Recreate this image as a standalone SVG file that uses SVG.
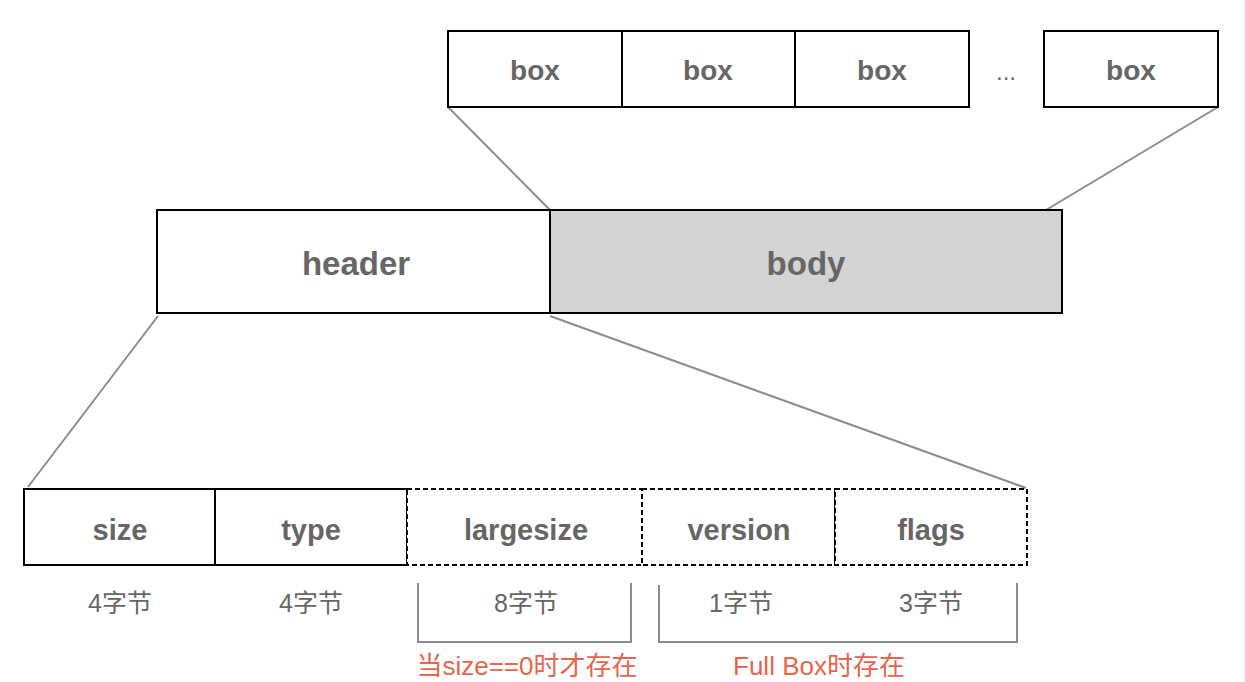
<svg xmlns="http://www.w3.org/2000/svg" width="1246" height="682" viewBox="0 0 1246 682">
<style>
.b{fill:#fff;stroke:#000;stroke-width:2}
.d{fill:#fff;stroke:#000;stroke-width:2;stroke-dasharray:5 3}
.t{font-family:"Liberation Sans",Arial,sans-serif;font-weight:bold;fill:#666;text-anchor:middle}
.s{font-family:"Liberation Sans","Noto Sans CJK SC",sans-serif;font-size:25px;fill:#666;text-anchor:middle}
.r{font-family:"Liberation Sans","Noto Sans CJK SC",sans-serif;font-size:26px;fill:#e8644c;text-anchor:middle}
.c{stroke:#8c8c8c;stroke-width:2;fill:none}
</style>
<rect width="1246" height="682" fill="#fff"/>
<rect x="1244" y="0" width="2" height="682" fill="#e6e6e6"/>
<g id="connectors">
<line class="c" x1="448" y1="107" x2="550" y2="210"/>
<line class="c" x1="1218" y1="107" x2="1046" y2="210"/>
<line class="c" x1="158" y1="316" x2="28" y2="487"/>
<line class="c" x1="550" y1="316" x2="1026" y2="488"/>
<path class="c" d="M418 583 V642 H631 V583"/>
<path class="c" d="M659 585 V642 H1017 V583"/>
</g>
<g id="box1"><rect class="b" x="448" y="31" width="174" height="76"/><text class="t" x="535" y="80" font-size="28">box</text></g>
<g id="box2"><rect class="b" x="622" y="31" width="173" height="76"/><text class="t" x="708" y="80" font-size="28">box</text></g>
<g id="box3"><rect class="b" x="795" y="31" width="174" height="76"/><text class="t" x="882" y="80" font-size="28">box</text></g>
<g id="ellipsis"><text x="1006" y="80" font-family="Liberation Sans,Arial,sans-serif" font-size="24" fill="#666" text-anchor="middle">...</text></g>
<g id="box4"><rect class="b" x="1044" y="31" width="174" height="76"/><text class="t" x="1131" y="80" font-size="28">box</text></g>
<g id="header"><rect class="b" x="157" y="210" width="393" height="103"/><text class="t" x="356" y="275" font-size="33">header</text></g>
<g id="body"><rect class="b" x="550" y="210" width="512" height="103" style="fill:#d4d4d4"/><text class="t" x="806" y="275" font-size="33">body</text></g>
<g id="size"><rect class="b" x="24" y="489" width="191" height="76"/><text class="t" x="120" y="540" font-size="29">size</text></g>
<g id="type"><rect class="b" x="215" y="489" width="192" height="76"/><text class="t" x="311" y="540" font-size="29">type</text></g>
<g id="largesize"><rect class="d" x="407" y="489" width="235" height="76"/><text class="t" x="526" y="540" font-size="29">largesize</text></g>
<g id="version"><rect class="d" x="642" y="489" width="193" height="76"/><text class="t" x="739" y="540" font-size="29">version</text></g>
<g id="flags"><rect class="d" x="835" y="489" width="192" height="76"/><text class="t" x="931" y="540" font-size="29">flags</text></g>
<g id="labels">
<text class="s" x="120" y="612">4字节</text>
<text class="s" x="311" y="612">4字节</text>
<text class="s" x="526" y="612">8字节</text>
<text class="s" x="741" y="612">1字节</text>
<text class="s" x="931" y="612">3字节</text>
<text class="r" x="527" y="675">当size==0时才存在</text>
<text class="r" x="819" y="675">Full Box时存在</text>
</g>
</svg>
